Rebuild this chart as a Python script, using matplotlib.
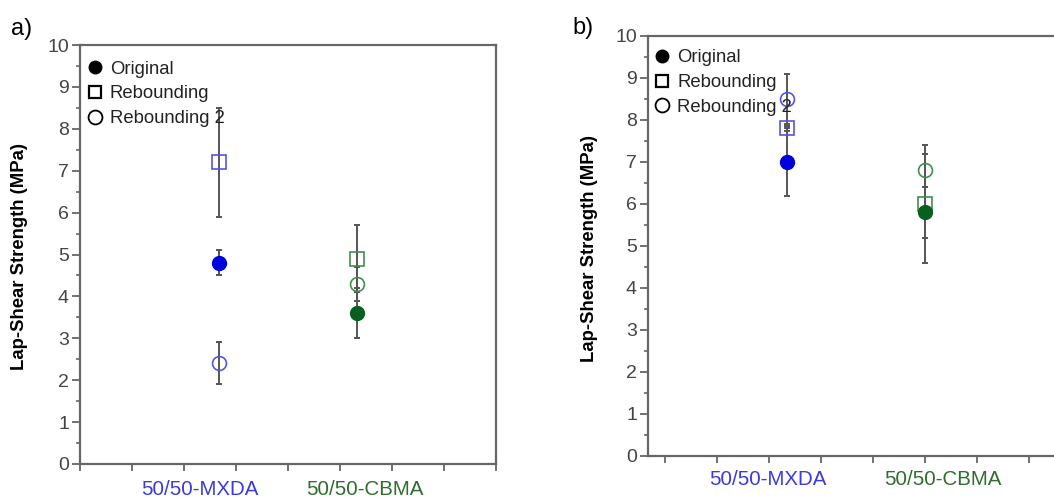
import numpy as np
import matplotlib.pyplot as plt
from matplotlib.lines import Line2D

plt.rcParams['font.family'] = ['Liberation Sans', 'DejaVu Sans']

# data
categories = ['50/50-MXDA', '50/50-CBMA']
cat_colors = ['#3b3bdc', '#2f6e2f']

# panel a)
a_original = [4.8, 3.6]
a_original_err = [0.3, 0.6]
a_reb = [7.2, 4.9]
a_reb_err = [1.3, 0.8]
a_reb2 = [2.4, 4.3]
a_reb2_err = [0.5, 0.4]

# panel b)
b_original = [7.0, 5.8]
b_original_err = [0.8, 0.6]
b_reb = [7.8, 6.0]
b_reb_err = [0.05, 1.4]
b_reb2 = [8.5, 6.8]
b_reb2_err = [0.6, 0.4]

filled_colors = ['#0000dc', '#08601e']
open_colors = ['#5454e6', '#3f8f4f']

x_pos = np.array([1, 2])
axis_grey = '#666666'


def draw_panel(ax, original, original_err, reb, reb_err, reb2, reb2_err,
               xticks, label_x, label_y, leg_anchor):
    # error bars first, markers on top
    for vals, errs in [(reb, reb_err), (reb2, reb2_err), (original, original_err)]:
        ax.errorbar(x_pos, vals, yerr=errs, fmt='none', ecolor='#555555',
                    elinewidth=1.4, capsize=2.5, capthick=1.4, zorder=2)

    for i in range(len(categories)):
        ax.plot(x_pos[i], reb[i], marker='s', ms=10, mfc='none',
                mec=open_colors[i], mew=1.2, ls='none', zorder=3)
        ax.plot(x_pos[i], reb2[i], marker='o', ms=10, mfc='none',
                mec=open_colors[i], mew=1.2, ls='none', zorder=3)
        ax.plot(x_pos[i], original[i], marker='o', ms=10,
                mfc=filled_colors[i], mec=filled_colors[i], ls='none', zorder=4)

    ax.set_xlim(0, 3)
    ax.set_ylim(0, 10)
    ax.set_yticks(np.arange(0, 11, 1))
    ax.set_yticks(np.arange(0.5, 10, 1), minor=True)
    ax.set_xticks(xticks)
    ax.set_xticklabels([])
    ax.tick_params(axis='y', which='major', direction='out', length=6, width=1.3,
                   color=axis_grey, labelsize=14, labelcolor='#444444', pad=2)
    ax.tick_params(axis='y', which='minor', direction='out', length=3, width=1.2,
                   color=axis_grey)
    ax.tick_params(axis='x', which='major', direction='out', length=5, width=1.3,
                   color=axis_grey)

    for sp in ax.spines.values():
        sp.set_color(axis_grey)
        sp.set_linewidth(1.6)

    # coloured category names
    for i, name in enumerate(categories):
        ax.text(label_x[i], label_y, name, color=cat_colors[i], fontsize=14.8,
                ha='center', va='center',
                transform=ax.get_xaxis_transform(), clip_on=False)

    # legend in black
    handles = [
        Line2D([], [], marker='o', ls='none', color='black', ms=9),
        Line2D([], [], marker='s', ls='none', mfc='none', mec='black', mew=1.6, ms=8),
        Line2D([], [], marker='o', ls='none', mfc='none', mec='black', mew=1.3, ms=10),
    ]
    ax.legend(handles, ['Original', 'Rebounding', 'Rebounding 2'],
              loc='upper left', bbox_to_anchor=leg_anchor, frameon=False,
              fontsize=13.3, handlelength=1.0, handletextpad=0.3,
              borderpad=0, borderaxespad=0, labelspacing=0.42,
              labelcolor='#222222')


fig = plt.figure(figsize=(10.54, 5.0), dpi=100)

ax_a = fig.add_axes([80 / 1054, 1 - 464 / 500, 416 / 1054, 419 / 500])
draw_panel(ax_a, a_original, a_original_err, a_reb, a_reb_err, a_reb2, a_reb2_err,
           xticks=np.linspace(0, 3, 9), label_x=[0.865, 2.055], label_y=-0.062,
           leg_anchor=(0.014, 0.963))

ax_b = fig.add_axes([648 / 1054, 1 - 456 / 500, 416 / 1054, 420 / 500])
draw_panel(ax_b, b_original, b_original_err, b_reb, b_reb_err, b_reb2, b_reb2_err,
           xticks=0.125 + 0.375 * np.arange(8), label_x=[0.865, 2.127], label_y=-0.057,
           leg_anchor=(0.012, 0.968))

# y labels and panel letters
fig.text(20 / 1054, 1 - 256 / 500, 'Lap-Shear Strength (MPa)', rotation=90,
         ha='center', va='center', fontsize=13.3, fontweight='bold')
fig.text(590 / 1054, 1 - 248 / 500, 'Lap-Shear Strength (MPa)', rotation=90,
         ha='center', va='center', fontsize=13.3, fontweight='bold')
fig.text(11 / 1054, 1 - 29 / 500, 'a)', ha='left', va='center', fontsize=17)
fig.text(572 / 1054, 1 - 28 / 500, 'b)', ha='left', va='center', fontsize=17)

fig.savefig('out.png', dpi=100)
